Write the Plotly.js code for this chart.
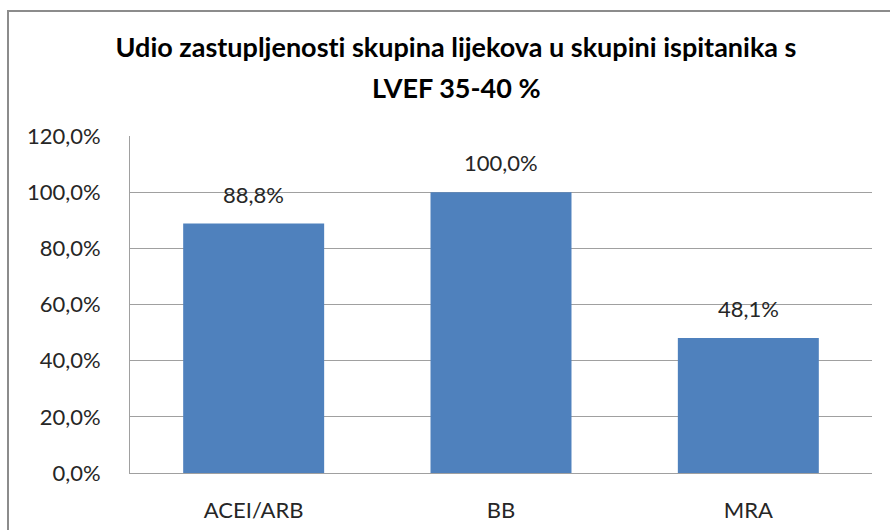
<!DOCTYPE html>
<html>
<head>
<meta charset="utf-8">
<script src="https://cdn.plot.ly/plotly-3.0.1.min.js"></script>
<style>
html,body{margin:0;padding:0;background:#fff;}
#wrap{position:relative;width:890px;height:530px;overflow:hidden;}
#chart{width:890px;height:530px;}
#frame{position:absolute;left:7px;top:10px;width:900px;height:540px;border:2px solid #8c8c8c;pointer-events:none;}
svg text{font-variant-ligatures:none;font-feature-settings:"liga" 0;}
</style>
</head>
<body>
<div id="wrap"><div id="chart"></div><div id="frame"></div></div>
<script>
var categories = ["ACEI/ARB", "BB", "MRA"];
var values = [88.8, 100.0, 48.1];
var valueLabels = ["88,8%", "100,0%", "48,1%"];
var tickValues = [0, 20, 40, 60, 80, 100, 120];
var tickLabels = ["0,0%", "20,0%", "40,0%", "60,0%", "80,0%", "100,0%", "120,0%"];
var titleLine1 = "Udio zastupljenosti skupina lijekova u skupini ispitanika s";
var titleLine2 = "LVEF 35-40 %";

var font = "Lato, 'Open Sans', sans-serif";

var annotations = categories.map(function(c, i){
  return {x: c, y: values[i], xref: "x", yref: "y", text: valueLabels[i],
    showarrow: false, yanchor: "bottom", yshift: 14,
    font: {family: font, size: 22, color: "#262626"}};
});
annotations.push({x: (456 - 130) / 742, xref: "paper", y: 1 + (136 - 88) / (530 - 136 - 57), yref: "paper",
  xanchor: "center", yanchor: "middle", text: "<b>" + titleLine2 + "</b>",
  showarrow:false, font:{family: font, size: 27, color:"#000"}});

var data = [{
  type: "bar", x: categories, y: values,
  marker: {color: "#4F81BD", line: {width: 0}},
  hoverinfo: "none"
}];

var layout = {
  width: 890, height: 530,
  margin: {l: 130, r: 18, t: 136, b: 57},
  paper_bgcolor: "#fff", plot_bgcolor: "#fff",
  bargap: 0.43,
  showlegend: false,
  title: {text: "<b>" + titleLine1 + "</b>", x: 456/890, xanchor: "center", y: 1 - 48/530, yanchor: "middle",
    font: {family: font, size: 27, color: "#000"}},
  xaxis: {
    showgrid: false, zeroline: false,
    showline: true, linecolor: "#a0a0a0", linewidth: 1,
    ticks: "", ticklabelstandoff: 18,
    tickfont: {family: font, size: 22, color: "#262626"}
  },
  yaxis: {
    range: [0, 120], tickvals: tickValues, ticktext: tickLabels,
    showgrid: true, gridcolor: "#a0a0a0", gridwidth: 1,
    zeroline: false, showline: true, linecolor: "#a0a0a0", linewidth: 1,
    ticks: "", ticklabelstandoff: 24,
    tickfont: {family: font, size: 22, color: "#262626"}
  },
  annotations: annotations
};

Plotly.newPlot("chart", data, layout, {displayModeBar: false, staticPlot: true});
</script>
</body>
</html>
